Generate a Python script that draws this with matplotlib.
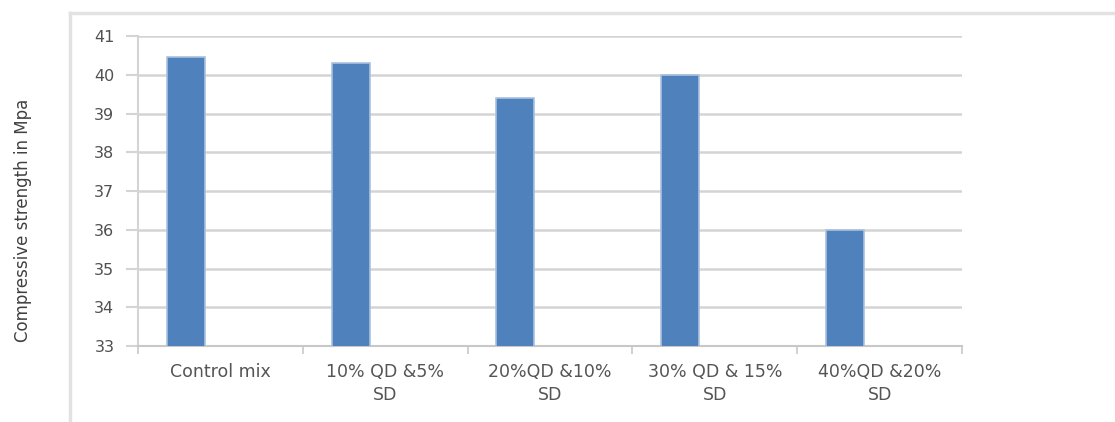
import numpy as np
import matplotlib.pyplot as plt
from matplotlib.lines import Line2D

plt.rcParams['font.family'] = ['DejaVu Sans']

# Compressive strength of each mix (MPa)
mixes = ['Control mix', '10% QD &5%\nSD', '20%QD &10%\nSD', '30% QD & 15%\nSD', '40%QD &20%\nSD']
strength = [40.45, 40.3, 39.4, 40.0, 36.0]
y_ticks = [33, 34, 35, 36, 37, 38, 39, 40, 41]

fig = plt.figure(figsize=(11.15, 4.22), dpi=100)
ax = fig.add_axes([0.1238, 0.180, 0.739, 0.7346])

x = np.arange(len(mixes))
ax.bar(x - 0.21, strength, width=0.23, color='#4F81BD',
       edgecolor='#a9c1df', linewidth=1.2, zorder=3)

ax.set_xlim(-0.5, len(mixes) - 0.5)
ax.set_ylim(33, 41)
ax.set_yticks(y_ticks)
ax.set_yticklabels([str(v) for v in y_ticks], fontsize=11.5, color='#505050')

# category labels centred, ticks on category boundaries
ax.set_xticks(x)
ax.set_xticklabels(mixes, fontsize=12.5, color='#555555', linespacing=1.35)
ax.set_xticks(np.arange(-0.5, len(mixes)), minor=True)
ax.tick_params(axis='x', which='major', length=0, pad=12)
ax.tick_params(axis='x', which='minor', length=6, color='#c8c8c8', width=1.2)
ax.tick_params(axis='y', length=9, color='#d4d4d4', width=1.5, pad=8)

ax.grid(axis='y', color='#d4d4d4', linewidth=1.8, zorder=0)
for side in ['top', 'right']:
    ax.spines[side].set_visible(False)
ax.spines['left'].set_color('#d4d4d4')
ax.spines['left'].set_linewidth(1.5)
ax.spines['bottom'].set_color('#c8c8c8')
ax.spines['bottom'].set_linewidth(1.5)

fig.text(23 / 1115, 1 - 220 / 422, 'Compressive strength in Mpa', rotation=90,
         ha='center', va='center', fontsize=12, color='#404040')

# chart area border (top and left edges)
fig.add_artist(Line2D([0.063, 1.0], [0.969, 0.969], color='#e2e2e2', linewidth=2.5))
fig.add_artist(Line2D([0.063, 0.063], [0.0, 0.969], color='#e2e2e2', linewidth=2.5))

fig.savefig('out.png', dpi=100, facecolor='white')
